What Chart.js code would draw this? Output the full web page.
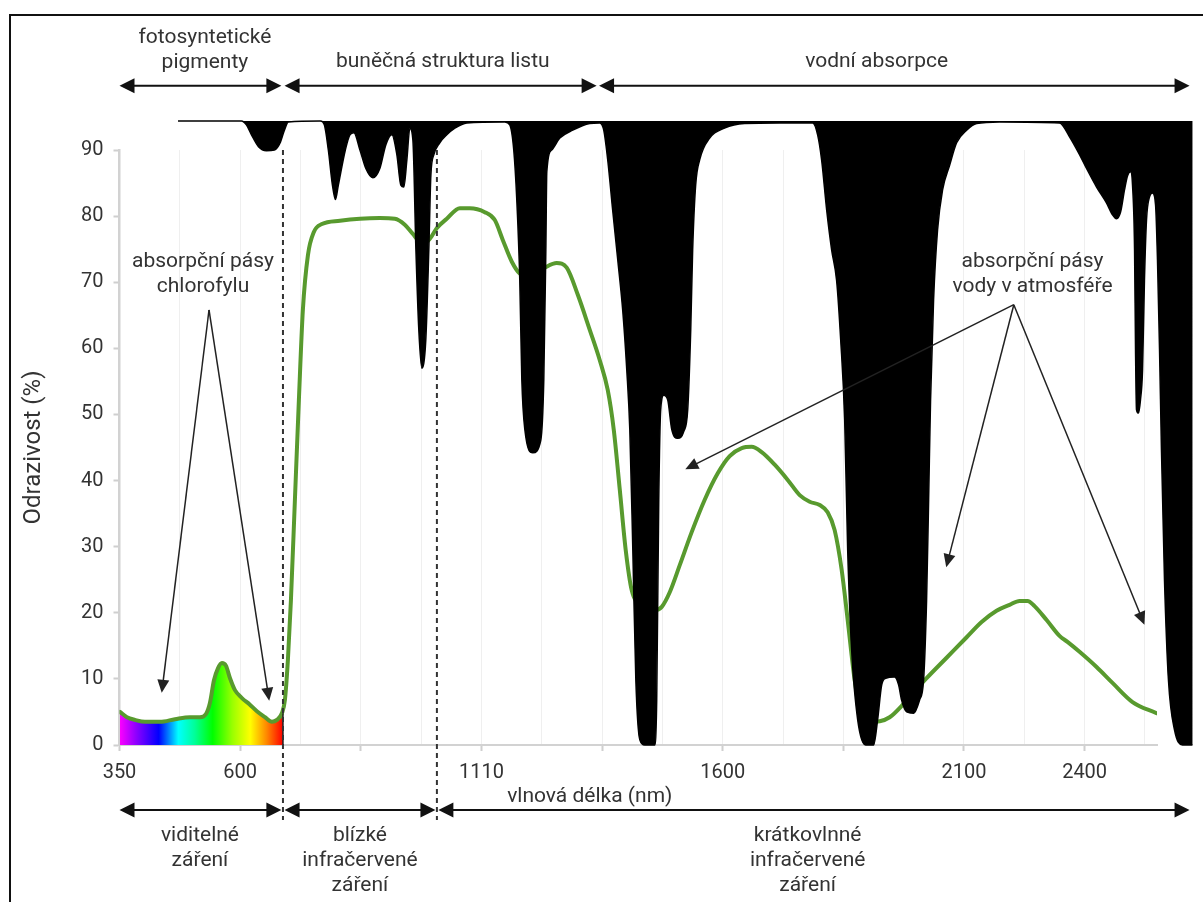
<!DOCTYPE html>
<html lang="cs">
<head>
<meta charset="utf-8">
<title>Spektrální odrazivost zeleného listu</title>
<script src="https://cdn.jsdelivr.net/npm/chart.js@4.4.1/dist/chart.umd.min.js"></script>
<style>
  html, body { margin: 0; padding: 0; background: #fff; }
  #wrap { position: relative; width: 1203px; height: 902px; overflow: hidden; background: #fff; }
  #chart { position: absolute; left: 0; top: 0; }
  #frame { position: absolute; left: 9px; top: 14px; width: 1300px; height: 1000px;
           border-left: 2px solid #111; border-top: 2px solid #111; pointer-events: none; }
</style>
</head>
<body>
<div id="wrap">
  <canvas id="chart" width="1203" height="902"></canvas>
  <div id="frame"></div>
</div>
<script>
// Horizontal positions are in axis steps: one step per labelled-grid interval.
const TICK_LABELS = ['350', '600', '', '1110', '', '1600', '', '2100', '2400'];
const X_MAX = 8.6;
const Y_MAX = 90;

// Leaf reflectance curve (%)
const LEAF_X = [0.004,0.062,0.128,0.211,0.336,0.460,0.584,0.667,0.717,0.750,
  0.783,0.816,0.849,0.882,0.916,0.957,1.015,1.081,1.139,1.206,
  1.264,1.305,1.346,1.371,1.396,1.421,1.454,1.487,1.520,1.562,
  1.611,1.678,1.827,1.993,2.158,2.282,2.365,2.432,2.490,2.548,
  2.589,2.631,2.713,2.821,2.904,3.028,3.111,3.177,3.252,3.318,
  3.401,3.525,3.624,3.707,3.799,3.898,3.981,4.047,4.097,4.147,
  4.196,4.246,4.329,4.437,4.495,4.561,4.644,4.743,4.851,4.959,
  5.058,5.158,5.240,5.323,5.431,5.539,5.638,5.721,5.804,5.870,
  5.928,5.986,6.036,6.094,6.152,6.218,6.301,6.384,6.508,6.690,
  6.856,7.022,7.146,7.270,7.378,7.461,7.527,7.585,7.685,7.792,
  7.858,7.958,8.099,8.231,8.397,8.596];
const LEAF_Y = [5.0,4.2,3.8,3.5,3.5,3.9,4.2,4.2,4.7,6.4,
  9.8,11.6,12.4,12.0,10.1,8.3,7.1,6.1,5.1,4.2,
  3.5,3.8,4.8,6.8,12.9,21.9,37.1,52.2,65.8,74.1,
  77.6,78.8,79.3,79.6,79.7,79.6,78.7,77.3,76.2,76.2,
  77.0,78.2,79.6,81.2,81.2,80.6,79.4,76.4,73.1,71.3,
  70.8,72.2,72.9,72.2,68.1,62.8,58.2,53.7,47.7,38.6,
  29.5,23.4,21.2,20.4,20.9,23.1,27.2,32.2,37.1,41.1,
  43.7,44.9,45.1,44.3,42.4,40.1,37.8,36.8,36.3,35.2,
  32.5,26.5,18.9,9.8,4.5,3.5,3.6,4.2,6.4,10.1,
  13.2,16.3,18.6,20.3,21.2,21.8,21.8,21.0,18.9,16.5,
  15.6,14.1,11.8,9.4,6.5,4.8];

// Atmospheric absorption profile: black is drawn from ATM_TOP down to this edge
const ATM_TOP = 94.4;
const ATM_X = [0.485,1.011,1.052,1.094,1.152,1.218,1.284,1.334,1.367,1.400,
  1.665,1.698,1.731,1.765,1.790,1.814,1.872,1.910,1.943,1.993,
  2.042,2.100,2.158,2.208,2.258,2.299,2.332,2.357,2.382,2.407,
  2.432,2.457,2.481,2.506,2.539,2.564,2.581,2.606,2.655,2.713,
  2.780,2.879,3.194,3.235,3.268,3.293,3.318,3.335,3.360,3.426,
  3.492,3.517,3.534,3.542,3.583,3.650,3.757,3.898,3.981,4.014,
  4.047,4.088,4.130,4.171,4.205,4.230,4.255,4.280,4.313,4.354,
  4.437,4.453,4.470,4.486,4.511,4.544,4.578,4.627,4.677,4.710,
  4.735,4.751,4.776,4.809,4.892,5.015,5.181,5.472,5.746,5.787,
  5.820,5.862,5.903,5.944,5.978,6.011,6.036,6.069,6.119,6.185,
  6.251,6.284,6.318,6.351,6.425,6.458,6.483,6.525,6.583,6.632,
  6.665,6.690,6.707,6.723,6.748,6.781,6.823,6.881,6.939,7.022,
  7.105,7.295,7.792,7.875,7.958,8.016,8.099,8.181,8.231,8.264,
  8.298,8.331,8.356,8.381,8.397,8.414,8.422,8.430,8.447,8.463,
  8.480,8.496,8.513,8.538,8.563,8.588,8.604,8.621,8.637,8.662,
  8.695,8.745,8.811,8.894];
const ATM_Y = [94.4,94.4,93.8,92.3,90.5,89.9,90.0,91.2,93.0,94.25,
  94.4,93.8,90.0,84.7,82.5,84.7,90.0,92.3,92.6,90.0,
  87.2,85.8,87.2,90.8,92.3,89.3,84.7,84.4,88.5,93.3,
  91.5,74.9,62.8,57.0,61.3,74.9,86.2,89.3,91.1,92.3,
  93.3,94.1,94.25,93.8,90.0,82.5,70.3,55.2,47.7,44.2,
  46.1,55.2,74.9,86.7,90.0,91.8,93.0,94.0,94.1,93.0,
  88.5,80.9,73.4,65.8,56.7,47.7,29.5,9.8,0.8,0,
  0,6.8,37.1,50.7,52.9,52.2,47.7,46.4,47.4,50.7,
  62.8,74.9,84.7,88.5,91.8,93.3,94.0,94.1,94.1,92.3,
  88.5,80.9,74.9,70.3,61.3,49.2,29.5,14.4,3.8,0,
  0,3.8,9.1,10.1,10.3,9.1,6.8,5.0,4.8,6.8,
  9.8,21.9,37.1,52.2,67.3,77.9,84.0,87.7,91.1,93.0,
  94.0,94.25,94.1,92.0,89.3,87.2,84.4,82.0,80.2,79.6,
  80.6,84.0,86.1,86.7,84.7,74.9,59.8,50.7,50.2,52.2,
  56.7,70.3,79.4,82.9,83.5,81.7,73.4,59.8,44.6,25.0,
  9.8,2.3,0,0];

// Spectral region boundaries (axis steps)
const VISIBLE_END = 1.355;
const NIR_END = 2.631;
const RIGHT_END = 8.87;
const TOP_SPANS = [[0.0, 1.342], [1.368, 3.955], [3.975, RIGHT_END]];
const BOTTOM_SPANS = [[0.0, 1.342], [1.368, 2.619], [2.643, RIGHT_END]];

// Text blocks: [x, y of first line, lines]
const TEXT_BLOCKS = [
  [0.708, 106.96, ['fotosyntetické', 'pigmenty']],
  [2.680, 103.33, ['buněčná struktura listu']],
  [6.276, 103.33, ['vodní absorpce']],
  [0.692, 73.07, ['absorpční pásy', 'chlorofylu']],
  [7.568, 73.07, ['absorpční pásy', 'vody v atmosféře']],
  [0.667, -13.77, ['viditelné', 'záření']],
  [1.993, -13.77, ['blízké', 'infračervené', 'záření']],
  [5.704, -13.77, ['krátkovlnné', 'infračervené', 'záření']],
  [3.898, -7.87, ['vlnová délka (nm)']]
];

// Pointer arrows: [apex, [targets]]
const CHLOROPHYLL_ARROWS = [[0.742, 65.8], [[0.350, 7.9], [1.241, 6.7]]];
const WATER_ARROWS = [[7.413, 66.6], [[4.690, 41.7], [6.853, 26.9], [8.496, 18.2]]];

const SPECTRUM = [[0, '#ff00ff'], [0.10, '#9000ff'], [0.24, '#0000ff'], [0.36, '#00ffff'],
  [0.46, '#00ff99'], [0.57, '#00ff00'], [0.69, '#99ff00'], [0.80, '#ffff00'],
  [0.90, '#ff8800'], [1, '#ff0000']];

const FONT = 'Roboto, "Noto Sans", sans-serif';
const TEXT_COLOR = '#333';

function spectrumFill(context) {
  const chart = context.chart;
  const area = chart.chartArea;
  const xs = chart.scales.x;
  if (!area || !xs) return 'rgba(0,0,0,0)';
  const x0 = xs.getPixelForValue(0);
  const x1 = xs.getPixelForValue(VISIBLE_END);
  const g = chart.ctx.createLinearGradient(x0, 0, area.right, 0);
  const f = (x1 - x0) / (area.right - x0);
  SPECTRUM.forEach(([t, c]) => g.addColorStop(t * f, c));
  g.addColorStop(Math.min(1, f + 0.0005), 'rgba(255,0,0,0)');
  g.addColorStop(1, 'rgba(255,0,0,0)');
  return g;
}

function arrowHead(ctx, tx, ty, ang, len, half) {
  const bx = tx - len * Math.cos(ang), by = ty - len * Math.sin(ang);
  ctx.beginPath();
  ctx.moveTo(tx, ty);
  ctx.lineTo(bx + half * Math.sin(ang), by - half * Math.cos(ang));
  ctx.lineTo(bx - half * Math.sin(ang), by + half * Math.cos(ang));
  ctx.closePath();
  ctx.fill();
}

function pointer(ctx, ax, ay, tx, ty) {
  const ang = Math.atan2(ty - ay, tx - ax);
  const len = 13;
  ctx.beginPath();
  ctx.moveTo(ax, ay);
  ctx.lineTo(tx - len * 0.8 * Math.cos(ang), ty - len * 0.8 * Math.sin(ang));
  ctx.stroke();
  arrowHead(ctx, tx, ty, ang, len, 6);
}

function doubleArrow(ctx, x1, x2, y) {
  const len = 15, half = 7.5;
  ctx.beginPath();
  ctx.moveTo(x1 + len * 0.8, y);
  ctx.lineTo(x2 - len * 0.8, y);
  ctx.stroke();
  arrowHead(ctx, x1, y, Math.PI, len, half);
  arrowHead(ctx, x2, y, 0, len, half);
}

const overlay = {
  id: 'overlay',
  afterDatasetDraw(chart, args) {
    if (args.index !== 0) return;
    // absorption bands: fill between the profile edge and the top line
    const ctx = chart.ctx;
    const xs = chart.scales.xa, ys = chart.scales.y;
    const pts = args.meta.data;
    const yTop = ys.getPixelForValue(ATM_TOP);
    const last = ATM_X.length - 1;
    ctx.save();
    ctx.beginPath();
    ctx.moveTo(pts[0].x, pts[0].y);
    for (let i = 1; i < pts.length; i++) {
      const p = pts[i - 1], q = pts[i];
      if (isFinite(p.cp2x) && isFinite(q.cp1x)) {
        ctx.bezierCurveTo(p.cp2x, p.cp2y, q.cp1x, q.cp1y, q.x, q.y);
      } else {
        ctx.lineTo(q.x, q.y);
      }
    }
    ctx.lineTo(xs.getPixelForValue(ATM_X[last]), ys.getPixelForValue(ATM_Y[last]));
    ctx.lineTo(xs.getPixelForValue(ATM_X[last]), yTop);
    ctx.lineTo(xs.getPixelForValue(ATM_X[0]), yTop);
    ctx.closePath();
    ctx.fillStyle = '#000';
    ctx.fill();
    ctx.restore();
  },
  afterDraw(chart) {
    const ctx = chart.ctx;
    const xs = chart.scales.x, ys = chart.scales.y;
    const px = v => xs.getPixelForValue(v);
    const py = v => ys.getPixelForValue(v);
    ctx.save();

    // edge of the visible band under the curve
    let k = 0;
    while (k + 1 < LEAF_X.length && LEAF_X[k + 1] <= VISIBLE_END) k++;
    ctx.strokeStyle = '#222';
    ctx.lineWidth = 1.5;
    ctx.beginPath();
    ctx.moveTo(px(VISIBLE_END), py(0));
    ctx.lineTo(px(VISIBLE_END), py(LEAF_Y[k]));
    ctx.stroke();

    // region boundaries
    ctx.setLineDash([5, 4]);
    ctx.lineWidth = 2;
    ctx.strokeStyle = '#333';
    [VISIBLE_END, NIR_END].forEach(v => {
      ctx.beginPath();
      ctx.moveTo(px(v), py(Y_MAX));
      ctx.lineTo(px(v), py(-11.35));
      ctx.stroke();
    });
    ctx.setLineDash([]);

    // region arrows above and below the plot
    ctx.strokeStyle = '#111';
    ctx.fillStyle = '#111';
    ctx.lineWidth = 2;
    TOP_SPANS.forEach(([a, b]) => doubleArrow(ctx, px(a), px(b), py(99.7)));
    BOTTOM_SPANS.forEach(([a, b]) => doubleArrow(ctx, px(a), px(b), py(-9.83)));

    // pointers to absorption bands
    ctx.strokeStyle = '#222';
    ctx.fillStyle = '#222';
    ctx.lineWidth = 1.5;
    [CHLOROPHYLL_ARROWS, WATER_ARROWS].forEach(([apex, targets]) => {
      targets.forEach(t => pointer(ctx, px(apex[0]), py(apex[1]), px(t[0]), py(t[1])));
    });

    // labels
    ctx.fillStyle = TEXT_COLOR;
    ctx.font = '21px ' + FONT;
    ctx.textAlign = 'center';
    ctx.textBaseline = 'middle';
    TEXT_BLOCKS.forEach(([x, y, lines]) => {
      lines.forEach((s, i) => ctx.fillText(s, px(x), py(y) + i * 25));
    });
    ctx.restore();
  }
};

new Chart(document.getElementById('chart'), {
  type: 'line',
  data: {
    datasets: [
      {
        label: 'Absorpce atmosféry',
        data: ATM_X.map((x, i) => ({ x, y: ATM_Y[i] })),
        xAxisID: 'xa',
        borderColor: '#000',
        borderWidth: 1.5,
        pointRadius: 0,
        fill: false,
        clip: false,
        cubicInterpolationMode: 'monotone',
        order: 0
      },
      {
        label: 'Odrazivost listu',
        data: LEAF_X.map((x, i) => ({ x, y: LEAF_Y[i] })),
        xAxisID: 'x',
        borderColor: '#589a2e',
        borderWidth: 4,
        borderCapStyle: 'round',
        borderJoinStyle: 'round',
        pointRadius: 0,
        fill: 'origin',
        backgroundColor: spectrumFill,
        cubicInterpolationMode: 'monotone',
        order: 1
      }
    ]
  },
  options: {
    responsive: false,
    animation: false,
    devicePixelRatio: 1,
    events: [],
    layout: { padding: { left: 0, top: 150, right: 46, bottom: 0 } },
    plugins: { legend: { display: false }, tooltip: { enabled: false } },
    scales: {
      x: {
        type: 'linear',
        position: 'bottom',
        min: 0,
        max: X_MAX,
        afterFit: s => { s.height = 157; },
        ticks: {
          stepSize: 0.5,
          includeBounds: false,
          autoSkip: false,
          maxRotation: 0,
          padding: 10,
          color: TEXT_COLOR,
          font: { family: FONT, size: 20 },
          callback: v => (Number.isInteger(v) && TICK_LABELS[v]) ? TICK_LABELS[v] : ''
        },
        grid: {
          color: '#efefef',
          lineWidth: 1,
          tickLength: 6,
          tickColor: c => Number.isInteger(c.tick.value) ? '#cfcfcf' : 'rgba(0,0,0,0)',
          tickWidth: 2
        },
        border: { color: '#d2d2d2', width: 2 }
      },
      // same mapping as x, but range set after data limits so the profile
      // beyond the last gridline is kept in the drawn line
      xa: {
        type: 'linear',
        position: 'bottom',
        display: false,
        bounds: 'data',
        afterDataLimits: s => { s.min = 0; s.max = X_MAX; }
      },
      y: {
        min: 0,
        max: Y_MAX,
        afterFit: s => { s.width = 119.5; },
        ticks: {
          stepSize: 10,
          padding: 10,
          color: TEXT_COLOR,
          font: { family: FONT, size: 20 }
        },
        grid: { drawOnChartArea: false, tickLength: 6, tickColor: '#cfcfcf', tickWidth: 2 },
        border: { color: '#d2d2d2', width: 2.5 },
        title: {
          display: true,
          text: 'Odrazivost (%)',
          color: TEXT_COLOR,
          font: { family: FONT, size: 24 },
          padding: { top: 20, bottom: 0 }
        }
      }
    }
  },
  plugins: [overlay]
});
</script>
</body>
</html>
